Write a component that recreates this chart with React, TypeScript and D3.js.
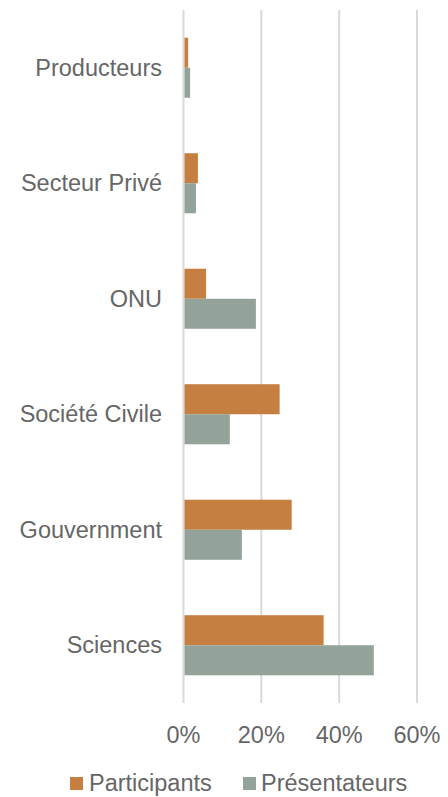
import * as d3 from "d3";

const categories = ["Producteurs", "Secteur Privé", "ONU", "Société Civile", "Gouvernment", "Sciences"];
const series = ["Participants", "Présentateurs"];
const participants = [0.012, 0.037, 0.058, 0.247, 0.278, 0.36];
const presentateurs = [0.017, 0.032, 0.186, 0.119, 0.15, 0.489];
const xTicks = [0, 0.2, 0.4, 0.6];
const colors = ["#C47F41", "#93A39A"];

const W = 448;
const H = 797;
const TEXT = "#666666";
const FONT = "'Liberation Sans', Arial, sans-serif";

export default function App() {
  const x = d3.scaleLinear().domain([0, 0.6]).range([183.5, 417]);
  const y = d3
    .scaleBand<string>()
    .domain(categories)
    .range([10, 703])
    .paddingInner(0.48)
    .paddingOuter(0.24);
  const ySub = d3.scaleBand<string>().domain(series).range([0, y.bandwidth()]);
  const values = [participants, presentateurs];
  const fmt = d3.format(".0%");

  // legend positions (marker x, text x)
  const legend = [
    { name: series[0], mx: 70, tx: 89 },
    { name: series[1], mx: 243, tx: 261 },
  ];

  return (
    <svg
      width={W}
      height={H}
      style={{ position: "absolute", left: 0, top: 0, background: "#fff" }}
      fontFamily={FONT}
    >
      {xTicks.map((t) => (
        <line
          key={t}
          x1={x(t)}
          x2={x(t)}
          y1={10}
          y2={703}
          stroke="#d9d9d9"
          strokeWidth={2}
        />
      ))}
      {categories.map((c, i) => (
        <g key={c} transform={`translate(0,${y(c)})`}>
          {series.map((s, j) => (
            <rect
              key={s}
              x={x(0) + 1}
              y={ySub(s)}
              width={Math.max(0, x(values[j][i]) - x(0) - 1)}
              height={ySub.bandwidth()}
              fill={colors[j]}
            />
          ))}
          <text
            x={162}
            y={y.bandwidth() / 2}
            dy="0.35em"
            textAnchor="end"
            fontSize={23.5}
            fill={TEXT}
          >
            {c}
          </text>
        </g>
      ))}
      {xTicks.map((t) => (
        <text
          key={"l" + t}
          x={x(t)}
          y={743}
          textAnchor="middle"
          fontSize={23.5}
          fill={TEXT}
        >
          {fmt(t)}
        </text>
      ))}
      {legend.map((l, j) => (
        <g key={l.name}>
          <rect x={l.mx} y={777} width={13} height={13} fill={colors[j]} />
          <text x={l.tx} y={791} fontSize={23.5} fill={TEXT}>
            {l.name}
          </text>
        </g>
      ))}
    </svg>
  );
}
